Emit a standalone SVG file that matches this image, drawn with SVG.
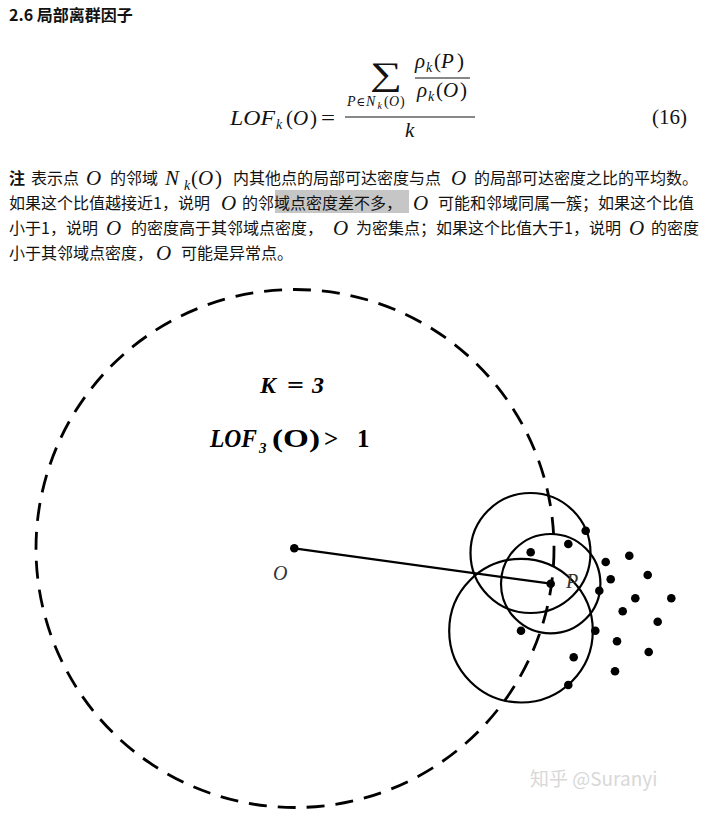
<svg xmlns="http://www.w3.org/2000/svg" width="709" height="816" viewBox="0 0 709 816">
<style>
.cjk{font-family:"Noto Sans CJK SC","Noto Sans",sans-serif;font-size:16px;fill:#121212}
.b{font-weight:bold}
.mi{font-family:"Liberation Serif","Times New Roman",serif;font-style:italic;font-size:21px;fill:#121212}
.mn{font-family:"Liberation Serif","Times New Roman",serif;font-size:21px;fill:#121212}
.sum{font-family:"Liberation Serif","Times New Roman",serif;font-size:33px;fill:#121212}
.sub{font-size:14px}
.ss{font-size:14px}
.sss{font-size:10px}
.fig{font-family:"Liberation Serif","Times New Roman",serif;font-weight:bold;fill:#000}
.lab{font-family:"Liberation Serif","Times New Roman",serif;font-style:italic;font-size:20px;fill:#333}
.solid{fill:none;stroke:#000;stroke-width:2.2}
.dash{fill:none;stroke:#000;stroke-width:2.8;stroke-dasharray:18 11}
.dot{fill:#000}
.wm{font-family:"Noto Sans CJK SC","Noto Sans",sans-serif;font-size:19px;fill:#d8d8d8}
</style>
<rect width="709" height="816" fill="#fff"/>

<g id="title">
<text class="cjk b" x="9" y="21" fill="#000">2.6 局部离群因子</text>
</g>

<g id="formula">
<text class="mi" x="230" y="125" textLength="45" lengthAdjust="spacingAndGlyphs">LOF</text>
<text class="mi sub" x="276" y="129">k</text>
<text class="mn" x="286" y="125">(</text>
<text class="mi" x="293" y="125">O</text>
<text class="mn" x="310" y="125">)</text>
<text class="mn" x="321" y="125" textLength="14" lengthAdjust="spacingAndGlyphs">=</text>
<text class="sum" x="370" y="85" textLength="32" lengthAdjust="spacingAndGlyphs">∑</text>
<text class="mi ss" x="347" y="106">P</text>
<text class="mn ss" x="356.5" y="106" style="font-family:'DejaVu Serif',serif;font-size:12px">∈</text>
<text class="mi ss" x="366" y="106">N</text>
<text class="mi sss" x="377.5" y="109">k</text>
<text class="mn ss" x="384" y="106">(</text>
<text class="mi ss" x="389" y="106">O</text>
<text class="mn ss" x="400" y="106">)</text>
<text class="mi" x="415" y="68">ρ</text>
<text class="mi sub" x="426" y="72">k</text>
<text class="mn" x="434" y="68">(</text>
<text class="mi" x="441" y="68">P</text>
<text class="mn" x="457" y="68">)</text>
<line x1="415" y1="78" x2="470" y2="78" stroke="#121212" stroke-width="1.2"/>
<text class="mi" x="417" y="97">ρ</text>
<text class="mi sub" x="428" y="101">k</text>
<text class="mn" x="436" y="97">(</text>
<text class="mi" x="443" y="97">O</text>
<text class="mn" x="460" y="97">)</text>
<line x1="345" y1="117" x2="475" y2="117" stroke="#121212" stroke-width="1.2"/>
<text class="mi" x="405" y="137">k</text>
<text class="mn" x="652" y="124">(16)</text>
</g>

<g id="note">
<rect x="275" y="190" width="134" height="23" fill="#c6c6c6"/>
<text class="cjk b" x="9" y="184">注</text>
<text class="cjk" x="31" y="184">表示点</text>
<text class="mi" x="86" y="185">O</text>
<text class="cjk" x="110" y="184">的邻域</text>
<text class="mi" x="165" y="185">N</text>
<text class="mi sub" x="184" y="190">k</text>
<text class="mn" x="191" y="185">(</text>
<text class="mi" x="198" y="185">O</text>
<text class="mn" x="215" y="185">)</text>
<text class="cjk" x="233" y="184">内其他点的局部可达密度与点</text>
<text class="mi" x="451" y="185">O</text>
<text class="cjk" x="474" y="184">的局部可达密度之比的平均数。</text>

<text class="cjk" x="9" y="209">如果这个比值越接近1，说明</text>
<text class="mi" x="221" y="210">O</text>
<text class="cjk" x="242" y="209">的邻域点密度差不多，</text>
<text class="mi" x="413" y="210">O</text>
<text class="cjk" x="438" y="209">可能和邻域同属一簇；如果这个比值</text>

<text class="cjk" x="9" y="234">小于1，说明</text>
<text class="mi" x="106" y="235">O</text>
<text class="cjk" x="131" y="234">的密度高于其邻域点密度，</text>
<text class="mi" x="333" y="235">O</text>
<text class="cjk" x="356" y="234">为密集点；如果这个比值大于1，说明</text>
<text class="mi" x="629" y="235">O</text>
<text class="cjk" x="651" y="234">的密度</text>

<text class="cjk" x="9" y="259">小于其邻域点密度，</text>
<text class="mi" x="156" y="260">O</text>
<text class="cjk" x="181" y="259">可能是异常点。</text>
</g>

<g id="figure-labels">
<text class="fig" x="260" y="393" font-size="24" font-style="italic">K</text>
<text class="fig" x="287" y="393" font-size="24" textLength="17" lengthAdjust="spacingAndGlyphs">=</text>
<text class="fig" x="312" y="393" font-size="24" font-style="italic">3</text>
<text class="fig" x="210" y="447" font-size="25" font-style="italic" textLength="47" lengthAdjust="spacingAndGlyphs">LOF</text>
<text class="fig" x="259" y="453" font-size="15" font-style="italic">3</text>
<text class="fig" x="272" y="447" font-size="25" textLength="48" lengthAdjust="spacingAndGlyphs">(O)</text>
<text class="fig" x="324" y="447" font-size="25">&gt;</text>
<text class="fig" x="357" y="447" font-size="25">1</text>
</g>

<g id="region-O">
<circle class="dash" cx="295" cy="548.5" r="259"/>
</g>

<g id="neighborhood-circles">
<circle class="solid" cx="530.5" cy="553" r="60"/>
<circle class="solid" cx="550.7" cy="583.7" r="49.7"/>
<circle class="solid" cx="521" cy="630.7" r="71.8"/>
</g>

<g id="connectors">
<line x1="294.3" y1="548.3" x2="550.7" y2="583.7" stroke="#000" stroke-width="2.2"/>
</g>

<g id="node-O">
<circle class="dot" cx="294.3" cy="548.3" r="4.3"/>
<text class="lab" x="273" y="580">O</text>
</g>

<g id="node-P">
<circle class="dot" cx="550.7" cy="583.7" r="4.3"/>
<text class="lab" x="566" y="588">P</text>
</g>

<g id="points">
<circle class="dot" cx="585.7" cy="530.7" r="4.3"/>
<circle class="dot" cx="568.3" cy="544" r="4.3"/>
<circle class="dot" cx="530.7" cy="552.3" r="4.3"/>
<circle class="dot" cx="605.7" cy="562" r="4.3"/>
<circle class="dot" cx="629.3" cy="555.7" r="4.3"/>
<circle class="dot" cx="647.7" cy="575" r="4.3"/>
<circle class="dot" cx="610.7" cy="579.3" r="4.3"/>
<circle class="dot" cx="599.3" cy="590.7" r="4.3"/>
<circle class="dot" cx="635.3" cy="598.3" r="4.3"/>
<circle class="dot" cx="671.3" cy="598.3" r="4.3"/>
<circle class="dot" cx="622.7" cy="611.3" r="4.3"/>
<circle class="dot" cx="657.7" cy="621.7" r="4.3"/>
<circle class="dot" cx="521" cy="630.7" r="4.3"/>
<circle class="dot" cx="595.3" cy="630.7" r="4.3"/>
<circle class="dot" cx="617" cy="641.3" r="4.3"/>
<circle class="dot" cx="648.7" cy="652" r="4.3"/>
<circle class="dot" cx="573.7" cy="657.3" r="4.3"/>
<circle class="dot" cx="615" cy="671.3" r="4.3"/>
<circle class="dot" cx="568.3" cy="685" r="4.3"/>
</g>

<g id="watermark">
<text class="wm" x="530" y="786">知乎 @Suranyi</text>
</g>
</svg>
